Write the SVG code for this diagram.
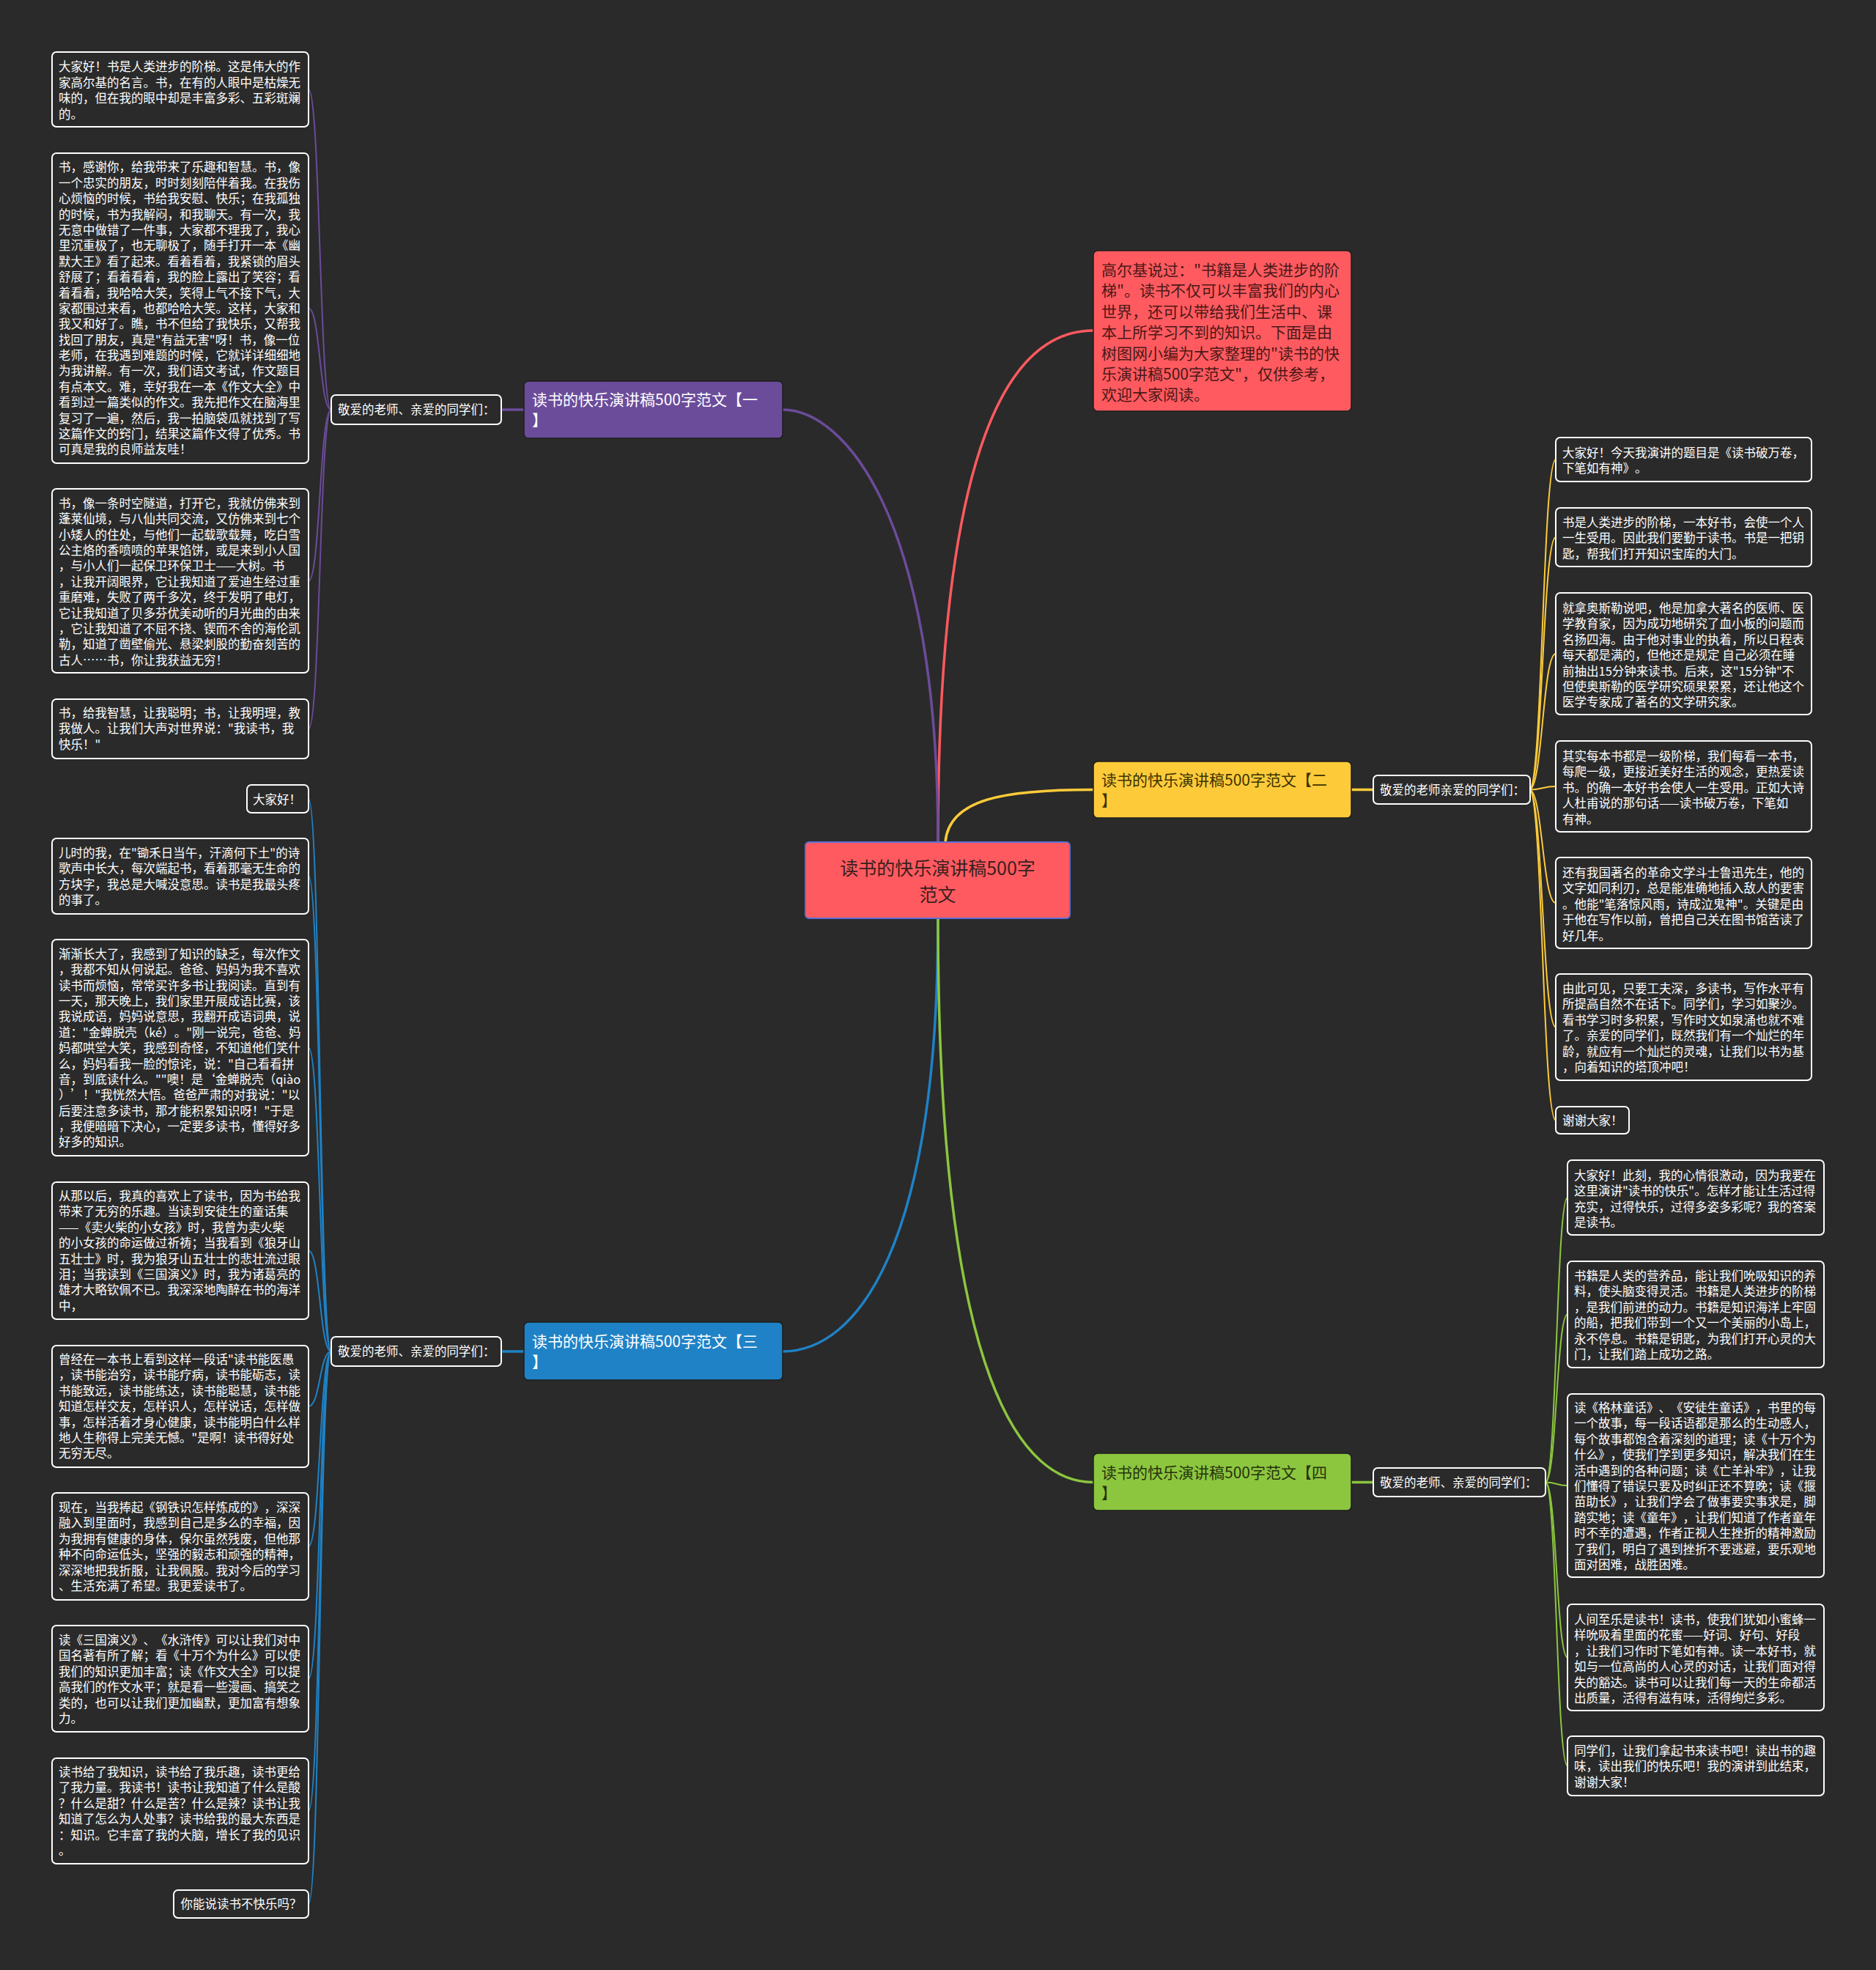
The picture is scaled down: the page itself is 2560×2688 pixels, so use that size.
<svg xmlns="http://www.w3.org/2000/svg" width="2560" height="2688" viewBox="0 0 2560 2688">
<style>
text{font-family:"Noto Sans CJK SC","Noto Sans",sans-serif;text-spacing-trim:space-all;}
.leaf rect,.lbl rect{fill:#2a2a2a;stroke:#ffffff;stroke-width:2;}
.leaf text{fill:#ffffff;font-size:16.5px;}
.lbl text{fill:#ffffff;font-size:16.5px;}
.br text{font-size:21px;}
.c{fill:none;stroke-linecap:round;}
.cp{stroke:#6b4c9a;}
.cr{stroke:#ff5a5f;}
.cy{stroke:#fdcb3a;}
.cb{stroke:#1f82c6;}
.cg{stroke:#8cc63f;}
.main{stroke-width:3.5;}
.sub{stroke-width:2;}
</style>
<rect x="0" y="0" width="2560" height="2688" fill="#2a2a2a"/>

<g id="connectors">
  <path class="c cr main" d="M1280 1149 C1280 600 1380 451 1492 451"/>
  <path class="c cp main" d="M1280 1149 C1280 700 1150 559 1068 559"/>
  <path class="c cy main" d="M1290 1149 C1295 1090 1370 1077.5 1492 1077.5"/>
  <path class="c cb main" d="M1280 1253 C1280 1700 1170 1844 1068 1844"/>
  <path class="c cg main" d="M1280 1253 C1280 1900 1400 2022.5 1492 2022.5"/>
  <path class="c cp main" d="M715 559 L684 559"/>
  <path class="c cb main" d="M715 1844 L684 1844"/>
  <path class="c cy main" d="M1844 1077.5 L1874 1077.5"/>
  <path class="c cg main" d="M1844 2022.5 L1874 2022.5"/>
  <!-- purple leaves -->
  <path class="c cp sub" d="M452 559 C436 559 437 122 421 122"/>
  <path class="c cp sub" d="M452 559 C436 559 437 420.5 421 420.5"/>
  <path class="c cp sub" d="M452 559 C436 559 437 792.5 421 792.5"/>
  <path class="c cp sub" d="M452 559 C436 559 437 994.5 421 994.5"/>
  <!-- blue leaves -->
  <path class="c cb sub" d="M452 1844 C436 1844 437 1090 421 1090"/>
  <path class="c cb sub" d="M452 1844 C436 1844 437 1195.5 421 1195.5"/>
  <path class="c cb sub" d="M452 1844 C436 1844 437 1429.5 421 1429.5"/>
  <path class="c cb sub" d="M452 1844 C436 1844 437 1706.5 421 1706.5"/>
  <path class="c cb sub" d="M452 1844 C436 1844 437 1919 421 1919"/>
  <path class="c cb sub" d="M452 1844 C436 1844 437 2110 421 2110"/>
  <path class="c cb sub" d="M452 1844 C436 1844 437 2290.5 421 2290.5"/>
  <path class="c cb sub" d="M452 1844 C436 1844 437 2471 421 2471"/>
  <path class="c cb sub" d="M452 1844 C436 1844 437 2598 421 2598"/>
  <!-- yellow leaves -->
  <path class="c cy sub" d="M2087 1077.5 C2105 1077.5 2105 627 2123 627"/>
  <path class="c cy sub" d="M2087 1077.5 C2105 1077.5 2105 733 2123 733"/>
  <path class="c cy sub" d="M2087 1077.5 C2105 1077.5 2105 892 2123 892"/>
  <path class="c cy sub" d="M2087 1077.5 C2105 1077.5 2105 1073 2123 1073"/>
  <path class="c cy sub" d="M2087 1077.5 C2105 1077.5 2105 1232 2123 1232"/>
  <path class="c cy sub" d="M2087 1077.5 C2105 1077.5 2105 1401.5 2123 1401.5"/>
  <path class="c cy sub" d="M2087 1077.5 C2105 1077.5 2105 1528.5 2123 1528.5"/>
  <!-- green leaves -->
  <path class="c cg sub" d="M2109 2022.5 C2124 2022.5 2124 1634 2139 1634"/>
  <path class="c cg sub" d="M2109 2022.5 C2124 2022.5 2124 1793.5 2139 1793.5"/>
  <path class="c cg sub" d="M2109 2022.5 C2124 2022.5 2124 2027 2139 2027"/>
  <path class="c cg sub" d="M2109 2022.5 C2124 2022.5 2124 2261.5 2139 2261.5"/>
  <path class="c cg sub" d="M2109 2022.5 C2124 2022.5 2124 2409.5 2139 2409.5"/>
</g>

<g id="center">
  <rect x="1099" y="1149" width="361" height="104" rx="5" fill="#ff5a5f" stroke="#5a6fd6" stroke-width="2"/>
  <text x="1279.5" y="1193.5" font-size="25" fill="#3a2020" text-anchor="middle"><tspan x="1279.5">读书的快乐演讲稿500字</tspan><tspan x="1279.5" dy="36">范文</tspan></text>
</g>

<g id="intro">
  <rect x="1492" y="342" width="352" height="219" rx="6" fill="#ff5a5f" stroke="#1e1e1e" stroke-width="1.5"/>
  <text x="1503" y="376" font-size="21" fill="#4a1818"><tspan x="1503">高尔基说过："书籍是人类进步的阶</tspan><tspan x="1503" dy="28.4">梯"。读书不仅可以丰富我们的内心</tspan><tspan x="1503" dy="28.4">世界，还可以带给我们生活中、课</tspan><tspan x="1503" dy="28.4">本上所学习不到的知识。下面是由</tspan><tspan x="1503" dy="28.4">树图网小编为大家整理的"读书的快</tspan><tspan x="1503" dy="28.4">乐演讲稿500字范文"，仅供参考，</tspan><tspan x="1503" dy="28.4">欢迎大家阅读。</tspan></text>
</g>

<g id="branch1" class="br">
  <rect x="715" y="520" width="353" height="78" rx="6" fill="#6b4c9a" stroke="#1e1e1e" stroke-width="1.5"/>
  <text x="726" y="553" fill="#ffffff"><tspan x="726">读书的快乐演讲稿500字范文【一</tspan><tspan x="726" dy="28">】</tspan></text>
</g>
<g id="branch2" class="br">
  <rect x="1492" y="1039" width="352" height="77" rx="6" fill="#fdcb3a" stroke="#1e1e1e" stroke-width="1.5"/>
  <text x="1503" y="1072" fill="#3d3200"><tspan x="1503">读书的快乐演讲稿500字范文【二</tspan><tspan x="1503" dy="28">】</tspan></text>
</g>
<g id="branch3" class="br">
  <rect x="715" y="1804" width="353" height="79" rx="6" fill="#1f82c6" stroke="#1e1e1e" stroke-width="1.5"/>
  <text x="726" y="1838" fill="#ffffff"><tspan x="726">读书的快乐演讲稿500字范文【三</tspan><tspan x="726" dy="28">】</tspan></text>
</g>
<g id="branch4" class="br">
  <rect x="1492" y="1983" width="352" height="78" rx="6" fill="#8cc63f" stroke="#1e1e1e" stroke-width="1.5"/>
  <text x="1503" y="2017" fill="#26330c"><tspan x="1503">读书的快乐演讲稿500字范文【四</tspan><tspan x="1503" dy="28">】</tspan></text>
</g>

<g id="label1" class="lbl"><rect x="452" y="539" width="232" height="40" rx="6"/><text x="461" y="565">敬爱的老师、亲爱的同学们：</text></g>
<g id="label2" class="lbl"><rect x="1874" y="1058" width="214" height="39" rx="6"/><text x="1883" y="1083.5">敬爱的老师亲爱的同学们：</text></g>
<g id="label3" class="lbl"><rect x="452" y="1824" width="232" height="40" rx="6"/><text x="461" y="1850">敬爱的老师、亲爱的同学们：</text></g>
<g id="label4" class="lbl"><rect x="1874" y="2003" width="235" height="39" rx="6"/><text x="1883" y="2028.5">敬爱的老师、亲爱的同学们：</text></g>

<g id="p1" class="leaf"><rect x="71" y="71" width="350" height="102" rx="6"/><text x="80" y="97.4"><tspan x="80">大家好！书是人类进步的阶梯。这是伟大的作</tspan><tspan x="80" dy="21.4">家高尔基的名言。书，在有的人眼中是枯燥无</tspan><tspan x="80" dy="21.4">味的，但在我的眼中却是丰富多彩、五彩斑斓</tspan><tspan x="80" dy="21.4">的。</tspan></text></g>

<g id="p2" class="leaf"><rect x="71" y="209" width="350" height="423" rx="6"/><text x="80" y="234.3"><tspan x="80">书，感谢你，给我带来了乐趣和智慧。书，像</tspan><tspan x="80" dy="21.4">一个忠实的朋友，时时刻刻陪伴着我。在我伤</tspan><tspan x="80" dy="21.4">心烦恼的时候，书给我安慰、快乐；在我孤独</tspan><tspan x="80" dy="21.4">的时候，书为我解闷，和我聊天。有一次，我</tspan><tspan x="80" dy="21.4">无意中做错了一件事，大家都不理我了，我心</tspan><tspan x="80" dy="21.4">里沉重极了，也无聊极了，随手打开一本《幽</tspan><tspan x="80" dy="21.4">默大王》看了起来。看着看着，我紧锁的眉头</tspan><tspan x="80" dy="21.4">舒展了；看着看着，我的脸上露出了笑容；看</tspan><tspan x="80" dy="21.4">着看着，我哈哈大笑，笑得上气不接下气，大</tspan><tspan x="80" dy="21.4">家都围过来看，也都哈哈大笑。这样，大家和</tspan><tspan x="80" dy="21.4">我又和好了。瞧，书不但给了我快乐，又帮我</tspan><tspan x="80" dy="21.4">找回了朋友，真是"有益无害"呀！书，像一位</tspan><tspan x="80" dy="21.4">老师，在我遇到难题的时候，它就详详细细地</tspan><tspan x="80" dy="21.4">为我讲解。有一次，我们语文考试，作文题目</tspan><tspan x="80" dy="21.4">有点本文。难，幸好我在一本《作文大全》中</tspan><tspan x="80" dy="21.4">看到过一篇类似的作文。我先把作文在脑海里</tspan><tspan x="80" dy="21.4">复习了一遍，然后，我一拍脑袋瓜就找到了写</tspan><tspan x="80" dy="21.4">这篇作文的窍门，结果这篇作文得了优秀。书</tspan><tspan x="80" dy="21.4">可真是我的良师益友哇！</tspan></text></g>

<g id="p3" class="leaf"><rect x="71" y="667" width="350" height="251" rx="6"/><text x="80" y="692.7"><tspan x="80">书，像一条时空隧道，打开它，我就仿佛来到</tspan><tspan x="80" dy="21.4">蓬莱仙境，与八仙共同交流，又仿佛来到七个</tspan><tspan x="80" dy="21.4">小矮人的住处，与他们一起载歌载舞，吃白雪</tspan><tspan x="80" dy="21.4">公主烙的香喷喷的苹果馅饼，或是来到小人国</tspan><tspan x="80" dy="21.4">，与小人们一起保卫环保卫士——大树。书</tspan><tspan x="80" dy="21.4">，让我开阔眼界，它让我知道了爱迪生经过重</tspan><tspan x="80" dy="21.4">重磨难，失败了两千多次，终于发明了电灯，</tspan><tspan x="80" dy="21.4">它让我知道了贝多芬优美动听的月光曲的由来</tspan><tspan x="80" dy="21.4">，它让我知道了不屈不挠、锲而不舍的海伦凯</tspan><tspan x="80" dy="21.4">勒，知道了凿壁偷光、悬梁刺股的勤奋刻苦的</tspan><tspan x="80" dy="21.4">古人……书，你让我获益无穷！</tspan></text></g>

<g id="p4" class="leaf"><rect x="71" y="954" width="350" height="81" rx="6"/><text x="80" y="979"><tspan x="80">书，给我智慧，让我聪明；书，让我明理，教</tspan><tspan x="80" dy="21.4">我做人。让我们大声对世界说："我读书，我</tspan><tspan x="80" dy="21.4">快乐！"</tspan></text></g>

<g id="b0" class="leaf"><rect x="337" y="1071" width="84" height="38" rx="6"/><text x="345" y="1097">大家好！</text></g>

<g id="b1" class="leaf"><rect x="71" y="1144" width="350" height="103" rx="6"/><text x="80" y="1170"><tspan x="80">儿时的我，在"锄禾日当午，汗滴何下土"的诗</tspan><tspan x="80" dy="21.4">歌声中长大，每次端起书，看着那毫无生命的</tspan><tspan x="80" dy="21.4">方块字，我总是大喊没意思。读书是我最头疼</tspan><tspan x="80" dy="21.4">的事了。</tspan></text></g>

<g id="b2" class="leaf"><rect x="71" y="1282" width="350" height="295" rx="6"/><text x="80" y="1307.7"><tspan x="80">渐渐长大了，我感到了知识的缺乏，每次作文</tspan><tspan x="80" dy="21.4">，我都不知从何说起。爸爸、妈妈为我不喜欢</tspan><tspan x="80" dy="21.4">读书而烦恼，常常买许多书让我阅读。直到有</tspan><tspan x="80" dy="21.4">一天，那天晚上，我们家里开展成语比赛，该</tspan><tspan x="80" dy="21.4">我说成语，妈妈说意思，我翻开成语词典，说</tspan><tspan x="80" dy="21.4">道："金蝉脱壳（ké）。"刚一说完，爸爸、妈</tspan><tspan x="80" dy="21.4">妈都哄堂大笑，我感到奇怪，不知道他们笑什</tspan><tspan x="80" dy="21.4">么，妈妈看我一脸的惊诧，说："自己看看拼</tspan><tspan x="80" dy="21.4">音，到底读什么。""噢！是‘金蝉脱壳（qiào</tspan><tspan x="80" dy="21.4">）’！"我恍然大悟。爸爸严肃的对我说："以</tspan><tspan x="80" dy="21.4">后要注意多读书，那才能积累知识呀！"于是</tspan><tspan x="80" dy="21.4">，我便暗暗下决心，一定要多读书，懂得好多</tspan><tspan x="80" dy="21.4">好多的知识。</tspan></text></g>

<g id="b3" class="leaf"><rect x="71" y="1613" width="350" height="187" rx="6"/><text x="80" y="1638"><tspan x="80">从那以后，我真的喜欢上了读书，因为书给我</tspan><tspan x="80" dy="21.4">带来了无穷的乐趣。当读到安徒生的童话集</tspan><tspan x="80" dy="21.4">——《卖火柴的小女孩》时，我曾为卖火柴</tspan><tspan x="80" dy="21.4">的小女孩的命运做过祈祷；当我看到《狼牙山</tspan><tspan x="80" dy="21.4">五壮士》时，我为狼牙山五壮士的悲壮流过眼</tspan><tspan x="80" dy="21.4">泪；当我读到《三国演义》时，我为诸葛亮的</tspan><tspan x="80" dy="21.4">雄才大略钦佩不已。我深深地陶醉在书的海洋</tspan><tspan x="80" dy="21.4">中，</tspan></text></g>

<g id="b4" class="leaf"><rect x="71" y="1836" width="350" height="166" rx="6"/><text x="80" y="1861"><tspan x="80">曾经在一本书上看到这样一段话"读书能医愚</tspan><tspan x="80" dy="21.4">，读书能治穷，读书能疗病，读书能砺志，读</tspan><tspan x="80" dy="21.4">书能致远，读书能练达，读书能聪慧，读书能</tspan><tspan x="80" dy="21.4">知道怎样交友，怎样识人，怎样说话，怎样做</tspan><tspan x="80" dy="21.4">事，怎样活着才身心健康，读书能明白什么样</tspan><tspan x="80" dy="21.4">地人生称得上完美无憾。"是啊！读书得好处</tspan><tspan x="80" dy="21.4">无穷无尽。</tspan></text></g>

<g id="b5" class="leaf"><rect x="71" y="2037" width="350" height="146" rx="6"/><text x="80" y="2063"><tspan x="80">现在，当我捧起《钢铁识怎样炼成的》，深深</tspan><tspan x="80" dy="21.4">融入到里面时，我感到自己是多么的幸福，因</tspan><tspan x="80" dy="21.4">为我拥有健康的身体，保尔虽然残废，但他那</tspan><tspan x="80" dy="21.4">种不向命运低头，坚强的毅志和顽强的精神，</tspan><tspan x="80" dy="21.4">深深地把我折服，让我佩服。我对今后的学习</tspan><tspan x="80" dy="21.4">、生活充满了希望。我更爱读书了。</tspan></text></g>

<g id="b6" class="leaf"><rect x="71" y="2218" width="350" height="145" rx="6"/><text x="80" y="2244"><tspan x="80">读《三国演义》、《水浒传》可以让我们对中</tspan><tspan x="80" dy="21.4">国名著有所了解；看《十万个为什么》可以使</tspan><tspan x="80" dy="21.4">我们的知识更加丰富；读《作文大全》可以提</tspan><tspan x="80" dy="21.4">高我们的作文水平；就是看一些漫画、搞笑之</tspan><tspan x="80" dy="21.4">类的，也可以让我们更加幽默，更加富有想象</tspan><tspan x="80" dy="21.4">力。</tspan></text></g>

<g id="b7" class="leaf"><rect x="71" y="2399" width="350" height="144" rx="6"/><text x="80" y="2424"><tspan x="80">读书给了我知识，读书给了我乐趣，读书更给</tspan><tspan x="80" dy="21.4">了我力量。我读书！读书让我知道了什么是酸</tspan><tspan x="80" dy="21.4">？什么是甜？什么是苦？什么是辣？读书让我</tspan><tspan x="80" dy="21.4">知道了怎么为人处事？读书给我的最大东西是</tspan><tspan x="80" dy="21.4">：知识。它丰富了我的大脑，增长了我的见识</tspan><tspan x="80" dy="21.4">。</tspan></text></g>

<g id="b8" class="leaf"><rect x="237" y="2579" width="184" height="38" rx="6"/><text x="246.5" y="2604">你能说读书不快乐吗？</text></g>

<g id="y1" class="leaf"><rect x="2123" y="597" width="349" height="60" rx="6"/><text x="2132" y="624"><tspan x="2132">大家好！今天我演讲的题目是《读书破万卷，</tspan><tspan x="2132" dy="21.4">下笔如有神》。</tspan></text></g>

<g id="y2" class="leaf"><rect x="2123" y="693" width="349" height="80" rx="6"/><text x="2132" y="719"><tspan x="2132">书是人类进步的阶梯，一本好书，会使一个人</tspan><tspan x="2132" dy="21.4">一生受用。因此我们要勤于读书。书是一把钥</tspan><tspan x="2132" dy="21.4">匙，帮我们打开知识宝库的大门。</tspan></text></g>

<g id="y3" class="leaf"><rect x="2123" y="809" width="349" height="166" rx="6"/><text x="2132" y="836"><tspan x="2132">就拿奥斯勒说吧，他是加拿大著名的医师、医</tspan><tspan x="2132" dy="21.4">学教育家，因为成功地研究了血小板的问题而</tspan><tspan x="2132" dy="21.4">名扬四海。由于他对事业的执着，所以日程表</tspan><tspan x="2132" dy="21.4">每天都是满的，但他还是规定 自己必须在睡</tspan><tspan x="2132" dy="21.4">前抽出15分钟来读书。后来，这"15分钟"不</tspan><tspan x="2132" dy="21.4">但使奥斯勒的医学研究硕果累累，还让他这个</tspan><tspan x="2132" dy="21.4">医学专家成了著名的文学研究家。</tspan></text></g>

<g id="y4" class="leaf"><rect x="2123" y="1011" width="349" height="124" rx="6"/><text x="2132" y="1038"><tspan x="2132">其实每本书都是一级阶梯，我们每看一本书，</tspan><tspan x="2132" dy="21.4">每爬一级，更接近美好生活的观念，更热爱读</tspan><tspan x="2132" dy="21.4">书。的确一本好书会使人一生受用。正如大诗</tspan><tspan x="2132" dy="21.4">人杜甫说的那句话——读书破万卷，下笔如</tspan><tspan x="2132" dy="21.4">有神。</tspan></text></g>

<g id="y5" class="leaf"><rect x="2123" y="1170" width="349" height="124" rx="6"/><text x="2132" y="1197"><tspan x="2132">还有我国著名的革命文学斗士鲁迅先生，他的</tspan><tspan x="2132" dy="21.4">文字如同利刃，总是能准确地插入敌人的要害</tspan><tspan x="2132" dy="21.4">。他能"笔落惊风雨，诗成泣鬼神"。关键是由</tspan><tspan x="2132" dy="21.4">于他在写作以前，曾把自己关在图书馆苦读了</tspan><tspan x="2132" dy="21.4">好几年。</tspan></text></g>

<g id="y6" class="leaf"><rect x="2123" y="1329" width="349" height="145" rx="6"/><text x="2132" y="1355"><tspan x="2132">由此可见，只要工夫深，多读书，写作水平有</tspan><tspan x="2132" dy="21.4">所提高自然不在话下。同学们，学习如聚沙。</tspan><tspan x="2132" dy="21.4">看书学习时多积累，写作时文如泉涌也就不难</tspan><tspan x="2132" dy="21.4">了。亲爱的同学们，既然我们有一个灿烂的年</tspan><tspan x="2132" dy="21.4">龄，就应有一个灿烂的灵魂，让我们以书为基</tspan><tspan x="2132" dy="21.4">，向着知识的塔顶冲吧！</tspan></text></g>

<g id="y7" class="leaf"><rect x="2123" y="1510" width="100" height="37" rx="6"/><text x="2132" y="1534.5">谢谢大家！</text></g>

<g id="g1" class="leaf"><rect x="2139" y="1583" width="350" height="102" rx="6"/><text x="2148" y="1610"><tspan x="2148">大家好！此刻，我的心情很激动，因为我要在</tspan><tspan x="2148" dy="21.4">这里演讲"读书的快乐"。怎样才能让生活过得</tspan><tspan x="2148" dy="21.4">充实，过得快乐，过得多姿多彩呢？我的答案</tspan><tspan x="2148" dy="21.4">是读书。</tspan></text></g>

<g id="g2" class="leaf"><rect x="2139" y="1721" width="350" height="145" rx="6"/><text x="2148" y="1747"><tspan x="2148">书籍是人类的营养品，能让我们吮吸知识的养</tspan><tspan x="2148" dy="21.4">料，使头脑变得灵活。书籍是人类进步的阶梯</tspan><tspan x="2148" dy="21.4">，是我们前进的动力。书籍是知识海洋上牢固</tspan><tspan x="2148" dy="21.4">的船，把我们带到一个又一个美丽的小岛上，</tspan><tspan x="2148" dy="21.4">永不停息。书籍是钥匙，为我们打开心灵的大</tspan><tspan x="2148" dy="21.4">门，让我们踏上成功之路。</tspan></text></g>

<g id="g3" class="leaf"><rect x="2139" y="1902" width="350" height="250" rx="6"/><text x="2148" y="1927"><tspan x="2148">读《格林童话》、《安徒生童话》，书里的每</tspan><tspan x="2148" dy="21.4">一个故事，每一段话语都是那么的生动感人，</tspan><tspan x="2148" dy="21.4">每个故事都饱含着深刻的道理；读《十万个为</tspan><tspan x="2148" dy="21.4">什么》，使我们学到更多知识，解决我们在生</tspan><tspan x="2148" dy="21.4">活中遇到的各种问题；读《亡羊补牢》，让我</tspan><tspan x="2148" dy="21.4">们懂得了错误只要及时纠正还不算晚；读《揠</tspan><tspan x="2148" dy="21.4">苗助长》，让我们学会了做事要实事求是，脚</tspan><tspan x="2148" dy="21.4">踏实地；读《童年》，让我们知道了作者童年</tspan><tspan x="2148" dy="21.4">时不幸的遭遇，作者正视人生挫折的精神激励</tspan><tspan x="2148" dy="21.4">了我们，明白了遇到挫折不要逃避，要乐观地</tspan><tspan x="2148" dy="21.4">面对困难，战胜困难。</tspan></text></g>

<g id="g4" class="leaf"><rect x="2139" y="2189" width="350" height="145" rx="6"/><text x="2148" y="2216"><tspan x="2148">人间至乐是读书！读书，使我们犹如小蜜蜂一</tspan><tspan x="2148" dy="21.4">样吮吸着里面的花蜜——好词、好句、好段</tspan><tspan x="2148" dy="21.4">，让我们习作时下笔如有神。读一本好书，就</tspan><tspan x="2148" dy="21.4">如与一位高尚的人心灵的对话，让我们面对得</tspan><tspan x="2148" dy="21.4">失的豁达。读书可以让我们每一天的生命都活</tspan><tspan x="2148" dy="21.4">出质量，活得有滋有味，活得绚烂多彩。</tspan></text></g>

<g id="g5" class="leaf"><rect x="2139" y="2369" width="350" height="81" rx="6"/><text x="2148" y="2395"><tspan x="2148">同学们，让我们拿起书来读书吧！读出书的趣</tspan><tspan x="2148" dy="21.4">味，读出我们的快乐吧！我的演讲到此结束，</tspan><tspan x="2148" dy="21.4">谢谢大家！</tspan></text></g>
</svg>
